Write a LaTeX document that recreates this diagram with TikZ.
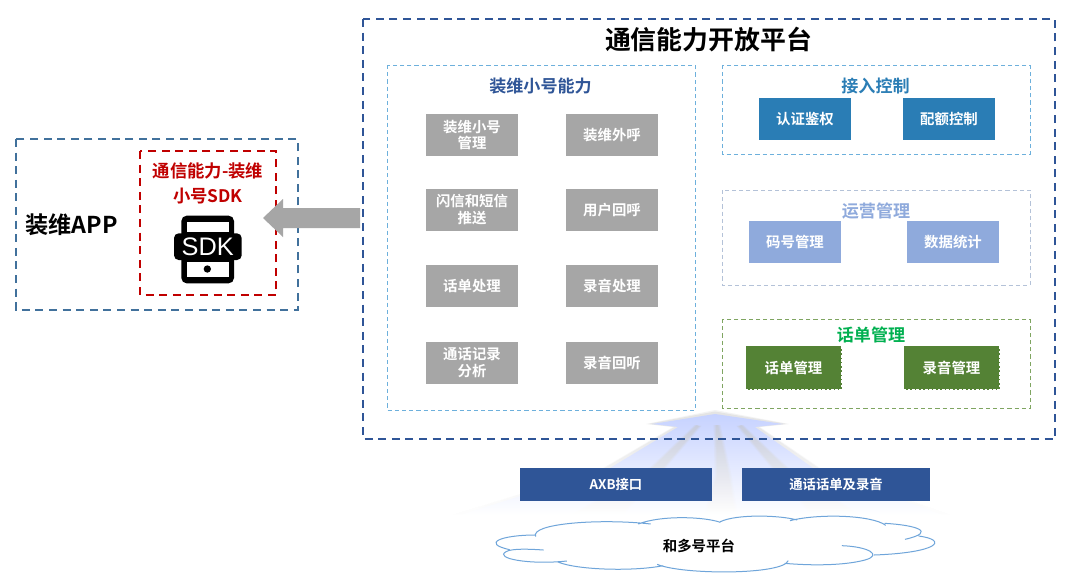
\documentclass[tikz,border=0pt]{standalone}
\usepackage{fontspec}
\setmainfont{Noto Sans CJK SC}[BoldFont={Noto Sans CJK SC Bold}]
\newfontfamily\sdkfont{Liberation Sans}
\usetikzlibrary{shadings}
\definecolor{navy}{HTML}{2F5597}
\definecolor{steel}{HTML}{41719C}
\definecolor{sky}{HTML}{6DB0DC}
\definecolor{redc}{HTML}{C00000}
\definecolor{gbox}{HTML}{A6A6A6}
\definecolor{accessc}{HTML}{2A7DB5}
\definecolor{opsc}{HTML}{8FAADC}
\definecolor{opsl}{HTML}{B4C2D8}
\definecolor{greenb}{HTML}{548235}
\definecolor{greenl}{HTML}{7FA561}
\definecolor{greent}{HTML}{00B050}
\definecolor{cloudc}{HTML}{6FA5DA}
\definecolor{fantop}{HTML}{C6D2FF}
\definecolor{fanmid}{HTML}{D2EEFF}
\tikzset{
  x=0.75pt,y=-0.75pt,
  frame/.style={draw,line width=.65pt,dash pattern=on 3.2pt off 2.2pt},
  bigframe/.style={draw,line width=1.5pt,dash pattern=on 6pt off 4.2pt},
  cell/.style={font=\bfseries\fontsize{10.8}{12.7}\selectfont,text=white,align=center,inner sep=0pt,minimum width=69pt,minimum height=31.5pt},
  graycell/.style={cell,fill=gbox},
  accesscell/.style={cell,fill=accessc},
  opscell/.style={cell,fill=opsc},
  greencell/.style={cell,fill=greenb,draw=white,line width=.7pt,dash pattern=on 2pt off 1.2pt,minimum width=72pt,minimum height=33pt},
  head/.style={font=\bfseries\fontsize{12.8}{15}\selectfont,inner sep=0pt},
  bluecell/.style={fill=navy,font=\bfseries\fontsize{10}{12}\selectfont,text=white,inner sep=0pt,minimum height=24.75pt},
  zoomB/.style={x=.26786pt,y=-.25pt,xshift=330pt,yshift=-300pt},
  zoomA/.style={x=.25pt,y=-.25pt,yshift=-90pt},
  halo/.style={top color=gray!75,bottom color=white,draw=none},
  streak/.style={top color=gray!45,middle color=gray!60,bottom color=white,draw=none},
}
\begin{document}
\begin{tikzpicture}
\useasboundingbox (0,0) rectangle (1080,586);
\fill[white] (0,0) rectangle (1080,586);

% fan: halo, then body
\foreach \w/\o in {3/.12,1.5/.18}{
  \shade[halo,opacity=\o] (715,413-\w) -- (786+\w,424) -- (757+\w,427) -- (817+\w,468) -- (950,515) -- (453,515) -- (606-\w,468) -- (676-\w,427) -- (649-\w,424) -- cycle;
}
\shade[top color=fantop,middle color=fanmid,bottom color=white]
  (715,414) -- (783,424) -- (755,427) -- (813,468) -- (943,515) -- (460,515) -- (610,468) -- (678,427) -- (652,424) -- cycle;
\foreach \w/\o in {0/.3,1.2/.25,2.4/.2}{
  \shade[streak,opacity=\o] (716-\w,425) -- (718+\w,425) -- (729+\w,475) -- (735+\w,514) -- (707-\w,514) -- (717-\w,475) -- cycle;
  \shade[streak,opacity=\o] (697-\w,425) -- (699+\w,426) -- (664+\w,467) -- (622+\w,513) -- (576-\w,514) -- (653-\w,467) -- cycle;
  \shade[streak,opacity=\o] (739-\w,426) -- (741+\w,425) -- (785+\w,467) -- (856+\w,514) -- (812-\w,513) -- (773-\w,467) -- cycle;
}

% frames
\draw[bigframe,navy] (363,19) rectangle (1055,439);
\draw[bigframe,steel] (16,139) rectangle (298,310);
\draw[bigframe,redc] (140,151) rectangle (276,295);
\draw[frame,sky] (387,65) rectangle (695,410);
\draw[frame,sky] (722,65) rectangle (1030,154);
\draw[frame,opsl] (722,190) rectangle (1030,285);
\draw[frame,greenl] (722,319) rectangle (1030,408);

% titles
\node[font=\bfseries\fontsize{19.4}{22}\selectfont,inner sep=0pt] (title) at (708.5,40) {通信能力开放平台};
\node[head,text=navy] (abilityT) at (540.5,86) {装维小号能力};
\node[head,text=accessc] (accessT) at (875.5,86) {接入控制};
\node[head,text=opsc] (opsT) at (876,211) {运营管理};
\node[head,text=greent] (billT) at (871,335) {话单管理};
\node[font=\bfseries\fontsize{17.4}{20}\selectfont,inner sep=0pt] (app) at (71.5,225) {装维APP};
\node[font=\bfseries\fontsize{13}{18.6}\selectfont,text=redc,align=center,inner sep=0pt] (sdkT) at (208,183) {通信能力-装维\\小号SDK};

% grey cells
\node[graycell] (a1) at (472,135) {装维小号\\管理};
\node[graycell] (a2) at (612,135) {装维外呼};
\node[graycell] (b1) at (472,210) {闪信和短信\\推送};
\node[graycell] (b2) at (612,210) {用户回呼};
\node[graycell] (c1) at (472,286) {话单处理};
\node[graycell] (c2) at (612,286) {录音处理};
\node[graycell] (d1) at (472,363) {通话记录\\分析};
\node[graycell] (d2) at (612,363) {录音回听};

\node[accesscell] (e1) at (805,119) {认证鉴权};
\node[accesscell] (e2) at (949,119) {配额控制};
\node[opscell] (f1) at (795,242) {码号管理};
\node[opscell] (f2) at (953,242) {数据统计};
\node[greencell] (g1) at (793.5,367.5) {话单管理};
\node[greencell] (g2) at (951.5,367.5) {录音管理};

\node[bluecell,minimum width=144pt] (axb) at (616,484.5) {AXB接口};
\node[bluecell,minimum width=141pt] (rec) at (836,484.5) {通话话单及录音};

% block arrow
\fill[gbox] (360,208) -- (283,208) -- (283,199) -- (263,218) -- (283,237) -- (283,228) -- (360,228) -- cycle;

% SDK icon
\begin{scope}[zoomA]
\fill[black,rounded corners=4pt] (544,287) rectangle (702,490);
\fill[white] (560,305) rectangle (687,335);
\fill[white] (560,425) rectangle (687,472);
\fill[black] (622,447) circle[radius=11];
\fill[black,rounded corners=3.5pt] (522,340) rectangle (725,420);
\node[font=\sdkfont\fontsize{19}{20}\selectfont,text=white,inner sep=0pt] (sdk) at (623,379) {SDK};
\end{scope}

% cloud
\begin{scope}[zoomB]
\fill[white] (268,405) .. controls (250,370) and (450,360) .. (560,368)
  .. controls (620,345) and (740,350) .. (785,365)
  .. controls (830,345) and (950,345) .. (990,358)
  .. controls (1060,340) and (1210,345) .. (1245,372)
  .. controls (1330,375) and (1375,390) .. (1345,408)
  .. controls (1420,420) and (1395,455) .. (1215,465)
  .. controls (1180,490) and (1060,500) .. (970,490)
  .. controls (930,525) and (680,525) .. (610,495)
  .. controls (540,515) and (380,510) .. (330,485)
  .. controls (250,490) and (160,475) .. (185,452)
  .. controls (115,430) and (170,405) .. (268,405) -- cycle;
\draw[cloudc,line width=.75pt]
  (268,410) .. controls (250,370) and (450,355) .. (590,372)
  (555,372) .. controls (620,345) and (740,350) .. (785,367)
  (785,365) .. controls (830,342) and (950,345) .. (1000,360)
  (980,362) .. controls (1060,340) and (1210,345) .. (1248,376)
  (1245,370) .. controls (1330,375) and (1395,395) .. (1302,418)
  (1340,408) .. controls (1425,420) and (1395,458) .. (1215,465)
  (1125,437) .. controls (1200,440) and (1240,465) .. (1190,480) .. controls (1130,497) and (1040,497) .. (965,490)
  (975,482) .. controls (960,525) and (680,525) .. (608,493)
  (625,497) .. controls (540,515) and (380,510) .. (328,485)
  (355,483) .. controls (250,495) and (150,475) .. (185,455) .. controls (200,445) and (250,447) .. (290,450)
  (195,449) .. controls (115,430) and (170,405) .. (268,405);
\node[font=\bfseries\fontsize{10.8}{13}\selectfont,inner sep=0pt] (cloudT) at (725,438) {和多号平台};
\end{scope}
\end{tikzpicture}
\end{document}
